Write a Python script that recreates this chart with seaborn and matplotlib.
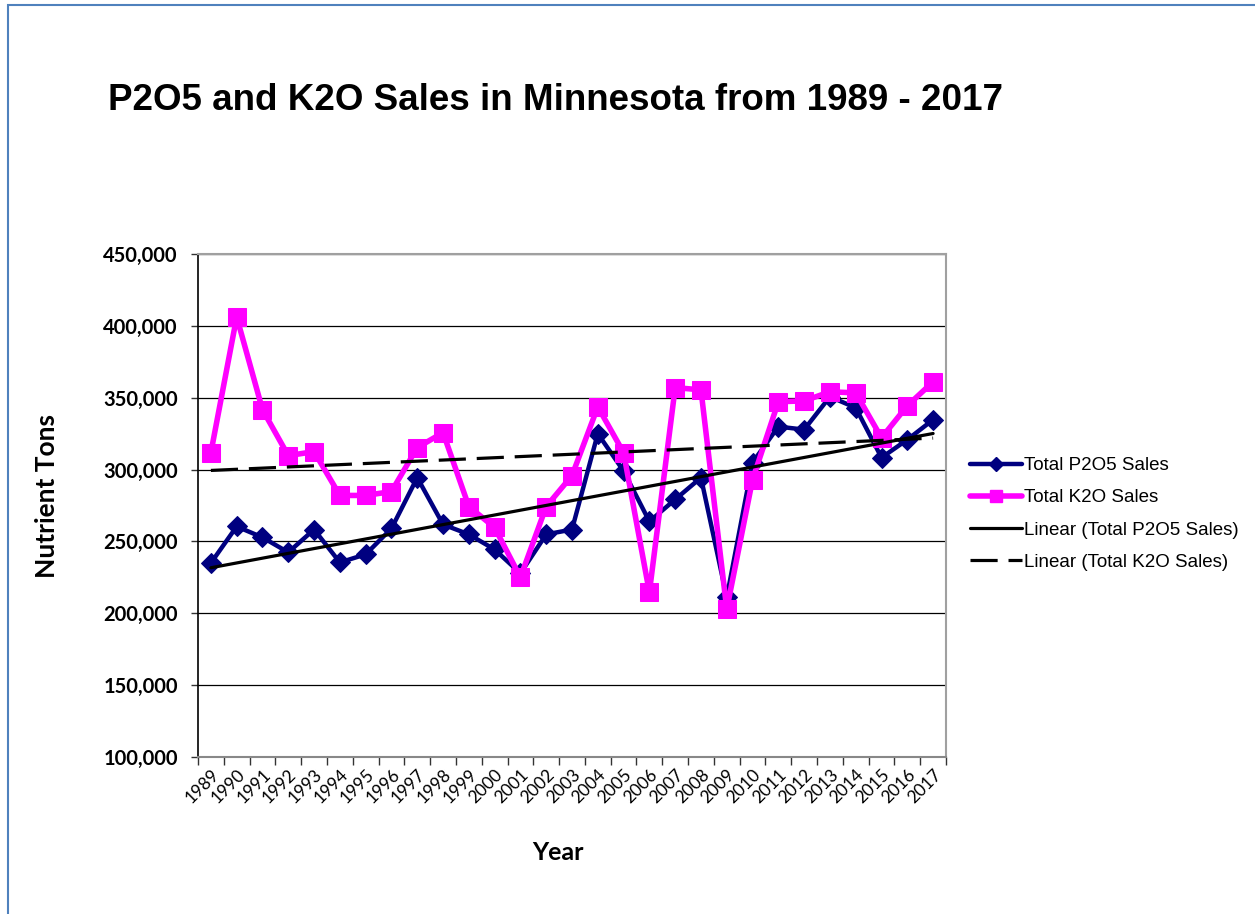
import numpy as np
import pandas as pd
import matplotlib
matplotlib.use("Agg")
import matplotlib.pyplot as plt
import seaborn as sns
from matplotlib.lines import Line2D
from matplotlib.patches import Rectangle

years = list(range(1989, 2018))
p2o5 = [235000, 260400, 252800, 242400, 258300, 235400, 241000, 259000, 294400, 261800,
        254900, 244400, 227800, 254900, 258300, 325000, 299000, 263900, 279200, 294400,
        211100, 304900, 329900, 327800, 350700, 343000, 308300, 320800, 334700]
k2o = [311800, 406200, 341700, 309700, 312500, 282000, 282000, 284700, 315300, 325700,
       274300, 259700, 225000, 274300, 295800, 343700, 311800, 214600, 357000, 355500,
       202800, 293000, 347200, 347800, 354100, 353400, 322100, 344400, 361100]
series_names = ["Total P2O5 Sales", "Total K2O Sales"]
trend_names = ["Linear (Total P2O5 Sales)", "Linear (Total K2O Sales)"]
title = "P2O5 and K2O Sales in Minnesota from 1989 - 2017"
y_ticks = [100000, 150000, 200000, 250000, 300000, 350000, 400000, 450000]

df = pd.DataFrame({"Year": years, series_names[0]: p2o5, series_names[1]: k2o})

sns.set_theme(style="white")
plt.rcParams['font.family'] = ['Liberation Sans', 'DejaVu Sans']
plt.rcParams['text.color'] = 'black'
plt.rcParams['axes.labelcolor'] = 'black'
plt.rcParams['xtick.color'] = 'black'
plt.rcParams['ytick.color'] = 'black'

fig = plt.figure(figsize=(12.55, 9.14), dpi=100)
ax = fig.add_axes([198/1255, 1-757/914, (946-198)/1255, (757-254)/914])

navy = "#000080"
magenta = "#FF00FF"
dash = (0, (8.5, 3.4))

sns.lineplot(data=df, x="Year", y=series_names[0], ax=ax, color=navy, lw=3.2,
             marker="D", markersize=10, markeredgecolor=navy, zorder=3)
sns.lineplot(data=df, x="Year", y=series_names[1], ax=ax, color=magenta, lw=4,
             marker="s", markersize=13, markeredgecolor=magenta, zorder=4)

# trend lines (least-squares fits of the data)
xs = np.array(years, dtype=float)
for vals, ls in [(p2o5, "-"), (k2o, dash)]:
    m, b = np.polyfit(xs, np.array(vals, dtype=float), 1)
    ax.plot([xs[0], xs[-1]], [m*xs[0]+b, m*xs[-1]+b], color="black", lw=2.3,
            linestyle=ls, zorder=5)

ax.set_xlim(1988.5, 2017.5)
ax.set_ylim(100000, 450000)
ax.set_yticks(y_ticks)
ax.set_yticklabels([f"{v:,}" for v in y_ticks], fontfamily="Lato", fontweight="bold",
                   fontsize=14.5)
ax.set_xticks(years)
ax.set_xticklabels([str(y) for y in years], rotation=45, ha="right",
                   rotation_mode="anchor", fontfamily="Lato", fontsize=12.5)
ax.set_xticks(np.arange(1988.5, 2018, 1), minor=True)
ax.tick_params(axis="x", which="major", length=0, pad=7)
ax.tick_params(axis="x", which="minor", length=6, width=1, color="#333333", bottom=True)
ax.tick_params(axis="y", which="major", length=5, width=1, color="#333333", left=True, pad=9.5)

ax.grid(axis="y", color="#000000", lw=0.9)
ax.set_axisbelow(True)
for s in ["top", "right"]:
    ax.spines[s].set_color("#a0a0a0")
    ax.spines[s].set_linewidth(1.5)
ax.spines["left"].set_color("#000000")
ax.spines["left"].set_linewidth(1.2)
ax.spines["bottom"].set_color("#888888")
ax.spines["bottom"].set_linewidth(1.5)

ax.set_xlabel("Year", fontfamily="Lato", fontweight="bold", fontsize=18, labelpad=0,
              va="center")
ax.xaxis.set_label_coords((558-198)/748, -(852-757)/503)
ax.set_ylabel("Nutrient Tons", fontfamily="Lato", fontweight="bold", fontsize=19,
              va="center")
ax.yaxis.set_label_coords(-(198-47)/748, (757-496)/503)

fig.text(108/1255, 1-100/914, title, fontsize=26.5, fontweight="bold",
         ha="left", va="center")

handles = [
    Line2D([], [], color=navy, lw=3.2, marker="D", markersize=7),
    Line2D([], [], color=magenta, lw=4, marker="s", markersize=9),
    Line2D([], [], color="black", lw=2.3),
    Line2D([], [], color="black", lw=2.3, linestyle=dash),
]
fig.legend(handles, series_names + trend_names, loc="center left",
           bbox_to_anchor=(953/1255, 1-514/914), frameon=False, fontsize=13.5,
           handlelength=2.8, handletextpad=0.1, labelspacing=0.8, numpoints=1)

fig.patches.append(Rectangle((8/1255, -0.1), 1.2, 1.1-5/914, transform=fig.transFigure,
                             fill=False, edgecolor="#4f81bd", lw=1.5))

fig.savefig("out.png", dpi=100, facecolor="white")
